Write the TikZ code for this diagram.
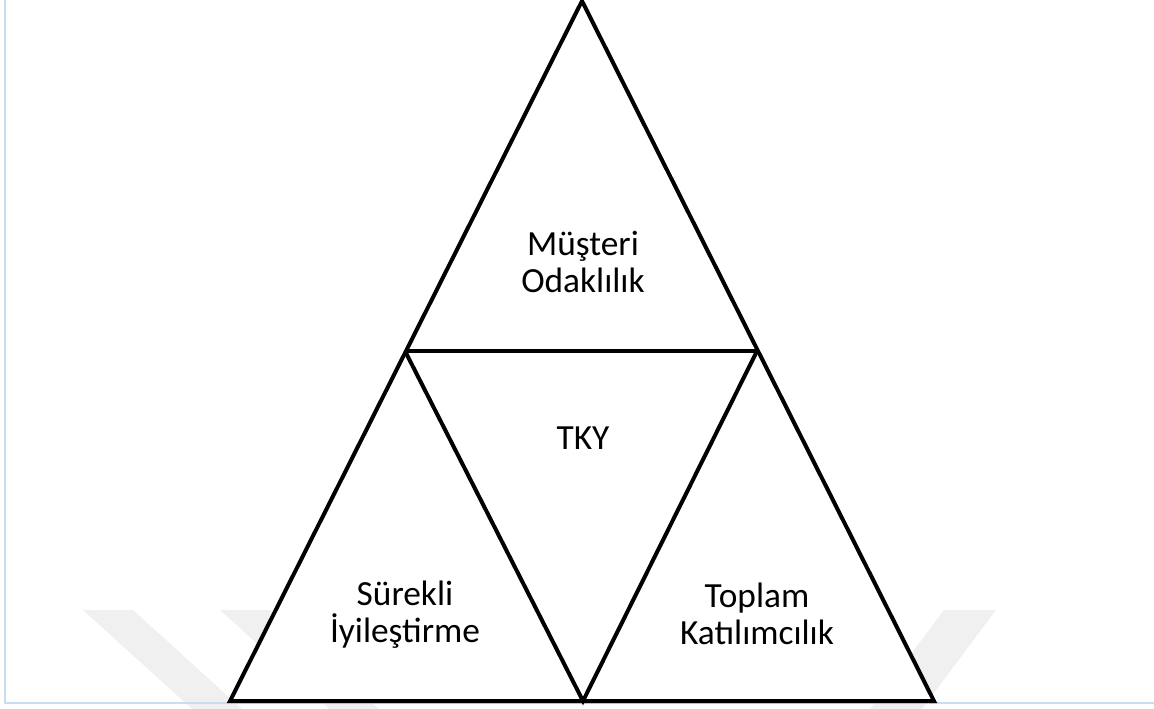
\documentclass[tikz,border=0pt]{standalone}
\usepackage{fontspec}
\setmainfont{Carlito}
\definecolor{pageblue}{RGB}{200,221,240}
\tikzset{
  sideln/.style  = {black, line width=3pt, line join=miter},
  pageln/.style  = {pageblue, line width=1.6pt},
  wmark/.style   = {fill=black!6, draw=none},
  partlbl/.style = {font=\fontsize{26.5}{28}\selectfont, align=center, inner sep=0pt}
}

\begin{document}
\begin{tikzpicture}[x=0.75pt,y=-0.75pt]
  \useasboundingbox (0,0) rectangle (1154,709);
  % faint watermark behind the figure
  \fill[wmark] (83,610) -- (133,610) -- (242,709) -- (192,709) -- cycle;
  \fill[wmark] (220,610) -- (270,610) -- (379,709) -- (329,709) -- cycle;
  \fill[wmark] (944,610) -- (996,610) -- (922,709) -- (870,709) -- cycle;
  % page frame
  \draw[pageln] (5,0) -- (5,703) -- (1154,703);
  % corners of the triangles
  \coordinate (apex) at (582,1);
  \coordinate (ml) at (405,351);
  \coordinate (mr) at (757,351);
  \coordinate (bl) at (230,701);
  \coordinate (bm) at (583,701);
  \coordinate (br) at (934,701);
  \filldraw[sideln,fill=white] (apex) -- (br) -- (bl) -- cycle;
  \draw[sideln] (ml) -- (mr);
  \draw[sideln] (ml) -- (bm) -- (mr);
  % labels
  \node[partlbl] (musteri) at (583,262) {Müşteri\\Odaklılık};
  \node[partlbl] (tky) at (583,438) {TKY};
  \node[partlbl] (surekli) at (405,615) {Sürekli\\İyileştirme};
  \node[partlbl] (toplam) at (757,614) {Toplam\\Katılımcılık};
\end{tikzpicture}
\end{document}
